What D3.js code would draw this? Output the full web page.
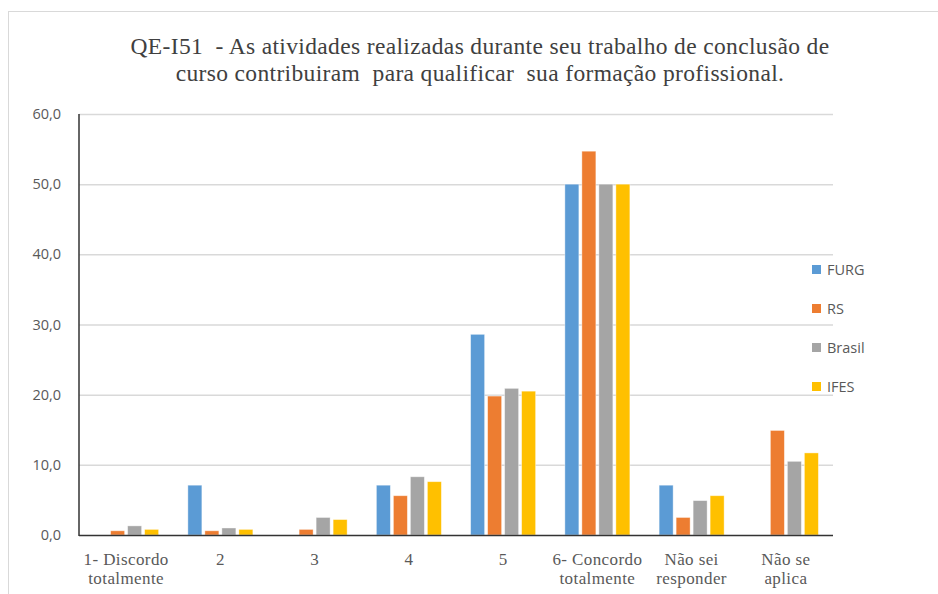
<!DOCTYPE html>
<html><head><meta charset="utf-8">
<script src="https://cdn.jsdelivr.net/npm/d3@7"></script>
<style>body{margin:0;background:#fff}svg{display:block}</style>
</head><body>
<svg id="chart" width="938" height="594"></svg>
<script>
const categories = [["1- Discordo","totalmente"],["2"],["3"],["4"],["5"],["6- Concordo","totalmente"],["Não sei","responder"],["Não se","aplica"]];
const seriesNames = ["FURG","RS","Brasil","IFES"];
const FURG   = [0, 7.1, 0, 7.1, 28.6, 50.0, 7.1, 0];
const RS     = [0.6, 0.6, 0.8, 5.6, 19.8, 54.7, 2.5, 14.9];
const Brasil = [1.3, 1.0, 2.5, 8.3, 20.9, 50.0, 4.9, 10.5];
const IFES   = [0.8, 0.8, 2.2, 7.6, 20.5, 50.0, 5.6, 11.7];
const yTicks = [0,10,20,30,40,50,60];
const colors = ["#5B9BD5","#ED7D31","#A5A5A5","#FFC000"];
const title = ["QE-I51  - As atividades realizadas durante seu trabalho de conclusão de","curso contribuiram  para qualificar  sua formação profissional."];

const SERIF = '"Liberation Serif", "Times New Roman", serif';
const SANS = '"Open Sans", sans-serif';

const svg = d3.select("#chart");
const data = [FURG, RS, Brasil, IFES];

// frame
svg.append("rect").attr("x",8.5).attr("y",11.5).attr("width",960).attr("height",620)
  .attr("fill","none").attr("stroke","#d9d9d9");

const L=79, R=833, T=114, B=535;
const x = d3.scaleBand().domain(d3.range(categories.length)).range([L,R]);
const y = d3.scaleLinear().domain([0,60]).range([B,T]);
const bw = 14, bstep = 17;

// gridlines
svg.append("g").selectAll("line").data(yTicks.slice(1)).join("line")
  .attr("x1",L).attr("x2",R).attr("y1",d=>y(d)+0.5).attr("y2",d=>y(d)+0.5)
  .attr("stroke","#d9d9d9").attr("stroke-width",1.5);

// y labels
svg.append("g").selectAll("text").data(yTicks).join("text")
  .style("font-family",SANS)
  .attr("x",61).attr("y",d=>y(d)+5).attr("text-anchor","end")
  .attr("font-size",14.5)
  .attr("fill","#595959").text(d=>d.toFixed(1).replace(".",","));

// bars
const gBars = svg.append("g");
data.forEach((s,si)=>{
  gBars.append("g").selectAll("rect").data(s).join("rect")
    .attr("x",(d,i)=>x(i)+x.bandwidth()/2 - (bstep*4-3)/2 + si*bstep)
    .attr("width",bw)
    .attr("y",d=>y(d)).attr("height",d=>B-y(d))
    .attr("fill",colors[si])
    .attr("stroke","#fff").attr("stroke-opacity",0.5).attr("stroke-width",0.8)
    .attr("display",d=>d>0?null:"none");
});

// axes lines
svg.append("line").attr("x1",L).attr("x2",L).attr("y1",T).attr("y2",B+1).attr("stroke","#333").attr("stroke-width",1.5);
svg.append("line").attr("x1",L).attr("x2",R).attr("y1",B+0.5).attr("y2",B+0.5).attr("stroke","#333").attr("stroke-width",1.5);

// x labels
const xl = svg.append("g").selectAll("text").data(categories).join("text")
  .style("font-family",SERIF).style("letter-spacing","0.4px")
  .attr("text-anchor","middle")
  .attr("font-size",17)
  .attr("fill","#595959");
xl.each(function(d,i){
  const t=d3.select(this);
  d.forEach((line,j)=>{
    t.append("tspan").attr("x",x(i)+x.bandwidth()/2).attr("y",565+j*19).text(line);
  });
});

// title
svg.append("g").selectAll("text").data(title).join("text")
  .style("font-family",SERIF).style("white-space","pre").style("letter-spacing","0.35px")
  .attr("x",480).attr("y",(d,i)=>54+i*27).attr("text-anchor","middle")
  .attr("font-size",23.5)
  .attr("fill","#404040").text(d=>d);

// legend
const lg = svg.append("g").selectAll("g").data(seriesNames).join("g")
  .attr("transform",(d,i)=>`translate(812,${270+i*39})`);
lg.append("rect").attr("x",0).attr("y",-5).attr("width",9).attr("height",9).attr("fill",(d,i)=>colors[i]);
lg.append("text").style("font-family",SANS).attr("x",15).attr("y",5)
  .attr("font-size",14.5).attr("fill","#595959").text(d=>d);
</script>
</body></html>
